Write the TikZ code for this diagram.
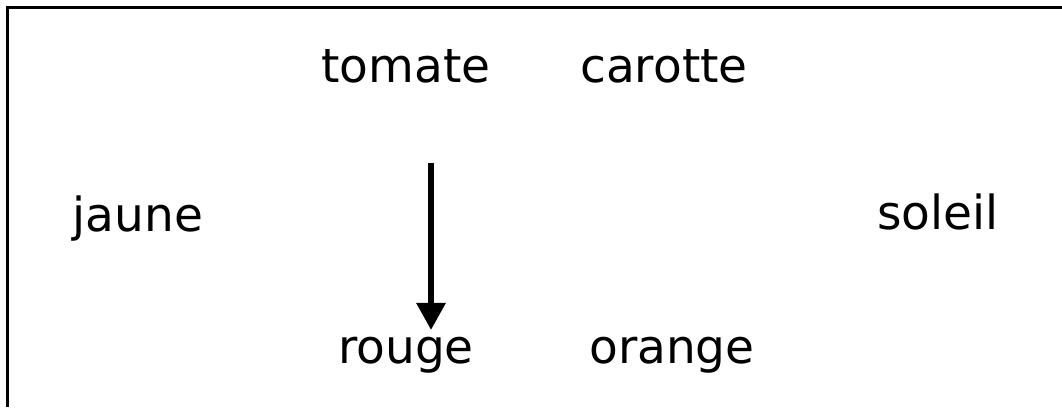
\documentclass[tikz,border=0pt]{standalone}
\usepackage{fontspec}
\setsansfont{DejaVu Sans}
\usepackage{tikz}
\usetikzlibrary{arrows.meta}
\newcommand{\wordfont}{\sffamily\fontsize{47}{56}\selectfont}
\tikzset{
  every node/.style={
    font=\wordfont,
    inner sep=0pt,
    anchor=base
  },
  frame/.style={line width=3pt},
  link/.style={line width=6pt, -{Triangle[length=27pt,width=28pt]}}
}

\begin{document}
\begin{tikzpicture}[x=1pt,y=1pt]
    \useasboundingbox (0,0) rectangle (1062,407);
    \draw[frame] (7,0) -- (7,399) -- (1062,399);
    \node (tomate) at (406,324) {tomate};
    \node (carotte) at (664,324) {carotte};
    \node (jaune) at (138,175) {jaune};
    \node (soleil) at (938,177) {soleil};
    \node (rouge) at (406,44) {rouge};
    \node (orange) at (672,44) {orange};
    \draw[link] ([xshift=25pt,yshift=-80pt]tomate.base) -- ([xshift=25pt,yshift=33pt]rouge.base);
\end{tikzpicture}
\end{document}
